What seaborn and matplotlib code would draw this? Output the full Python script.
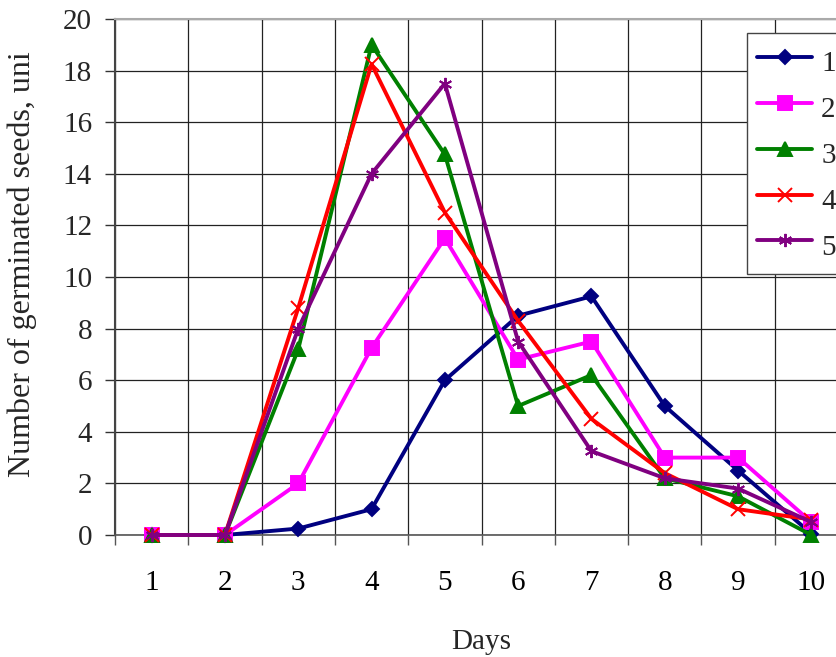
import matplotlib
matplotlib.use("Agg")
import matplotlib.pyplot as plt
from matplotlib.ticker import FixedLocator
import seaborn as sns
import numpy as np

days = [1, 2, 3, 4, 5, 6, 7, 8, 9, 10]
series_names = ["1", "2", "3", "4", "5"]
s1 = [0, 0, 0.25, 1.0, 6.0, 8.5, 9.25, 5.0, 2.5, 0.05]
s2 = [0, 0, 2.0, 7.25, 11.5, 6.8, 7.5, 3.0, 3.0, 0.5]
s3 = [0, 0, 7.2, 19.0, 14.75, 5.0, 6.2, 2.2, 1.5, 0.0]
s4 = [0, 0, 8.8, 18.25, 12.5, 8.3, 4.5, 2.4, 1.0, 0.6]
s5 = [0, 0, 8.0, 14.0, 17.5, 7.5, 3.25, 2.2, 1.8, 0.5]
values = [s1, s2, s3, s4, s5]
colors = ["#000080", "#FF00FF", "#008000", "#FF0000", "#800080"]
markers = ["D", "s", "^", "x", (6, 2, 0)]
msizes = [7, 9.5, 9.5, 9.5, 9.5]
y_ticks = [0, 2, 4, 6, 8, 10, 12, 14, 16, 18, 20]

sns.set_theme(style="white")
plt.rcParams["font.family"] = ["Liberation Serif", "DejaVu Serif"]

W, H = 837, 657
fig = plt.figure(figsize=(W / 100, H / 100), dpi=100)
left, right, top, bottom = 115, 848, 19, 535
ax = fig.add_axes([left / W, 1 - bottom / H, (right - left) / W, (bottom - top) / H])

for name, vals, c, m, ms in zip(series_names, values, colors, markers, msizes):
    sns.lineplot(x=days, y=vals, ax=ax, color=c, marker=m, markersize=ms,
                 markeredgecolor=c, markerfacecolor=c, markeredgewidth=1.4,
                 linewidth=2.8, label=name, clip_on=False, zorder=3)

ax.set_xlim(0.5, 10.5)
ax.set_ylim(0, 20)
ax.xaxis.set_major_locator(FixedLocator(days))
ax.set_xticklabels([str(d) for d in days])
ax.xaxis.set_minor_locator(FixedLocator(np.arange(0.5, 11, 1.0)))
ax.yaxis.set_major_locator(FixedLocator(y_ticks))

ax.tick_params(axis="x", which="major", length=0, pad=25, labelsize=21, colors="black")
ax.tick_params(axis="x", which="minor", length=7, width=1, color="#555555", direction="out", bottom=True)
ax.tick_params(axis="y", which="major", length=7, width=1, color="#333333", direction="out",
               pad=9.5, labelsize=21, left=True)

ax.grid(False)
ax.yaxis.grid(True, which="major", color="#222222", linewidth=0.9)
ax.xaxis.grid(True, which="minor", color="#222222", linewidth=0.9)
ax.set_axisbelow(True)

for side, sp in ax.spines.items():
    sp.set_visible(True)
ax.spines["left"].set_color("#444444")
ax.spines["left"].set_linewidth(1.5)
ax.spines["bottom"].set_color("#555555")
ax.spines["bottom"].set_linewidth(1.2)
ax.spines["top"].set_color("#aaaaaa")
ax.spines["top"].set_linewidth(1.5)
ax.spines["right"].set_color("#aaaaaa")

ax.set_xlabel("Days", fontsize=21)
ax.xaxis.set_label_coords(0.5, -(629 - bottom) / (bottom - top))
ax.set_ylabel("")
fig.text(22 / W, 1 - 264 / H, "Number of germinated seeds, uni", rotation=90,
         ha="center", va="center", fontsize=23)

leg = ax.legend(loc="upper left", bbox_to_anchor=(747 / W, 1 - 33 / H),
                bbox_transform=fig.transFigure, fontsize=21, frameon=True,
                fancybox=False, edgecolor="#444444", framealpha=1,
                handlelength=1.9, handleheight=1.625, labelspacing=0.27,
                borderpad=0.34, handletextpad=0.3, borderaxespad=0)
leg.get_frame().set_linewidth(1.0)

fig.savefig("out.png", dpi=100)
